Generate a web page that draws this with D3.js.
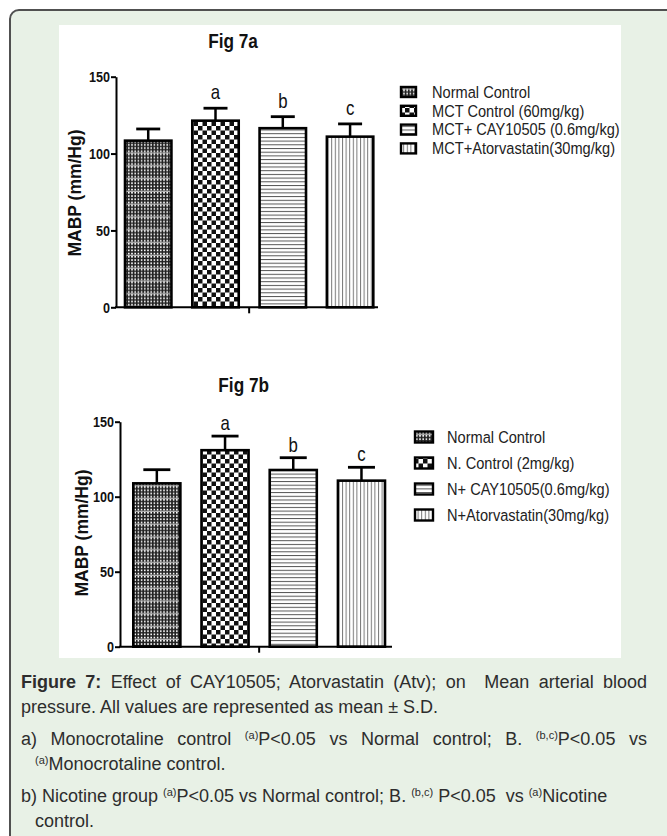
<!DOCTYPE html>
<html>
<head>
<meta charset="utf-8">
<script src="https://cdn.jsdelivr.net/npm/d3@7"></script>
<style>
  body { margin:0; background:#fff; width:667px; height:836px; overflow:hidden; position:relative; font-family:"Liberation Sans", Arial, sans-serif; }
  svg { position:absolute; left:0; top:0; }
  #cap { position:absolute; left:21px; top:670px; width:626px; font-size:18px; line-height:25px; color:#2d2d2d; }
  #cap .j { text-align:justify; text-align-last:justify; }
  #cap .ind { padding-left:14px; }
  #cap .gap { margin-top:7px; }
  #cap sup { font-size:11px; line-height:0; vertical-align:6px; }
</style>
</head>
<body>
<svg id="chart" width="667" height="836"></svg>
<div id="cap">
  <div class="j"><b>Figure 7:</b> Effect of CAY10505; Atorvastatin (Atv); on&nbsp; Mean arterial blood</div>
  <div>pressure. All values are represented as mean ± S.D.</div>
  <div class="j gap">a) Monocrotaline control <sup>(a)</sup>P&lt;0.05 vs Normal control; B. <sup>(b,c)</sup>P&lt;0.05 vs</div>
  <div class="ind"><sup>(a)</sup>Monocrotaline control.</div>
  <div class="gap">b) Nicotine group <sup>(a)</sup>P&lt;0.05 vs Normal control; B. <sup>(b,c)</sup> P&lt;0.05&nbsp; vs <sup>(a)</sup>Nicotine</div>
  <div class="ind">control.</div>
</div>
<script>
// ---------------- data ----------------
const groupsA = ["Normal Control", "MCT Control (60mg/kg)", "MCT+ CAY10505 (0.6mg/kg)", "MCT+Atorvastatin(30mg/kg)"];
const meansA  = [108.4, 121.4, 116.5, 111.0];
const sdA     = [7.6, 8.1, 7.5, 8.3];

const groupsB = ["Normal Control", "N. Control (2mg/kg)", "N+ CAY10505(0.6mg/kg)", "N+Atorvastatin(30mg/kg)"];
const meansB  = [108.9, 131.0, 117.8, 110.7];
const sdB     = [9.1, 9.4, 8.2, 8.9];

const sigLetters = ["", "a", "b", "c"];
const yTicks = [0, 50, 100, 150];
const yDomain = [0, 150];

// ---------------- frame ----------------
const svg = d3.select("#chart");
svg.append("rect").attr("x", 10).attr("y", 10).attr("width", 720).attr("height", 900)
  .attr("rx", 9).attr("fill", "#e8f1e6").attr("stroke", "#505050").attr("stroke-width", 2);
svg.append("rect").attr("x", 59).attr("y", 25).attr("width", 562).attr("height", 633).attr("fill", "#fff");

// ---------------- patterns ----------------
const defs = svg.append("defs");
function makePatterns(pre) {
  let p = defs.append("pattern").attr("id", pre + "0").attr("patternUnits", "userSpaceOnUse")
    .attr("width", 3.2).attr("height", 12.8);
  p.append("rect").attr("width", 3.2).attr("height", 12.8).attr("fill", "#222");
  for (let k = 0; k < 4; k++) p.append("rect").attr("x", 0).attr("y", k * 3.2).attr("width", 1.6).attr("height", 1.6).attr("fill", "#fff");
  p.append("rect").attr("x", 0).attr("y", 11.6).attr("width", 3.2).attr("height", 0.9).attr("fill", "#eee");
  p = defs.append("pattern").attr("id", pre + "1").attr("patternUnits", "userSpaceOnUse")
    .attr("width", 9).attr("height", 9);
  p.append("rect").attr("width", 9).attr("height", 9).attr("fill", "#fff");
  p.append("rect").attr("width", 4.5).attr("height", 4.5).attr("fill", "#111");
  p.append("rect").attr("x", 4.5).attr("y", 4.5).attr("width", 4.5).attr("height", 4.5).attr("fill", "#111");
  p = defs.append("pattern").attr("id", pre + "2").attr("patternUnits", "userSpaceOnUse")
    .attr("width", 10).attr("height", 3.7);
  p.append("rect").attr("width", 10).attr("height", 3.7).attr("fill", "#fff");
  p.append("rect").attr("width", 10).attr("height", 1).attr("fill", "#555");
  p = defs.append("pattern").attr("id", pre + "3").attr("patternUnits", "userSpaceOnUse")
    .attr("width", 3.6).attr("height", 10);
  p.append("rect").attr("width", 3.6).attr("height", 10).attr("fill", "#fff");
  p.append("rect").attr("width", 1).attr("height", 10).attr("fill", "#777");
}
makePatterns("pat");

const FONT = '"Liberation Sans", Arial, sans-serif';
const SQ = 0.84; // horizontal condensing of chart lettering

// ---------------- panel ----------------
function drawPanel(cfg, groups, means, sds) {
  const g = svg.append("g");
  const y = d3.scaleLinear().domain(yDomain).range([cfg.y0, cfg.y150]);
  const x = d3.scaleBand().domain(groups).range([cfg.barL, cfg.barR]).paddingInner(0.31).paddingOuter(0);
  const bw = x.bandwidth();

  // title
  g.append("text").attr("transform", `translate(${cfg.titleX},${cfg.titleY}) scale(${SQ},1)`)
    .attr("text-anchor", "middle")
    .attr("font-family", FONT).attr("font-weight", "bold").attr("font-size", 20.5).attr("fill", "#111")
    .text(cfg.title);

  // y label
  g.append("text").attr("transform", `translate(${cfg.ylabX},${cfg.ylabY}) rotate(-90)`)
    .attr("text-anchor", "middle").attr("dominant-baseline", "central")
    .attr("font-family", FONT).attr("font-weight", "bold").attr("font-size", 17.5).attr("fill", "#111")
    .text("MABP (mm/Hg)");

  // error bars
  const eg = g.append("g");
  groups.forEach((d, i) => {
    const cx = x(d) + bw / 2;
    eg.append("line").attr("x1", cx).attr("x2", cx).attr("y1", y(means[i])).attr("y2", y(means[i] + sds[i]))
      .attr("stroke", "#000").attr("stroke-width", 2.5);
    eg.append("line").attr("x1", cx - cfg.capW / 2).attr("x2", cx + cfg.capW / 2)
      .attr("y1", y(means[i] + sds[i])).attr("y2", y(means[i] + sds[i]))
      .attr("stroke", "#000").attr("stroke-width", 2.8);
  });

  // bars
  g.selectAll(".bar").data(groups).join("rect")
    .attr("x", d => x(d)).attr("y", (d, i) => y(means[i]))
    .attr("width", bw).attr("height", (d, i) => y(0) - y(means[i]))
    .attr("fill", (d, i) => `url(#pat${i})`).attr("stroke", "#000").attr("stroke-width", 2.6);

  // significance letters
  g.selectAll(".sig").data(groups).join("text")
    .attr("transform", (d, i) => `translate(${x(d) + bw / 2},${y(means[i] + sds[i]) - cfg.letterGap}) scale(${SQ},1)`)
    .attr("text-anchor", "middle").attr("font-family", FONT).attr("font-size", 20).attr("fill", "#111")
    .text((d, i) => sigLetters[i]);

  // y axis
  const ax = g.append("g").attr("transform", `translate(${cfg.yAxisX},0)`)
    .call(d3.axisLeft(y).tickValues(yTicks).tickSize(5).tickSizeOuter(0).tickPadding(2));
  ax.select(".domain").attr("stroke", "#000").attr("stroke-width", 2);
  ax.selectAll(".tick line").attr("stroke", "#000").attr("stroke-width", 2);
  ax.selectAll(".tick text").attr("font-family", FONT).attr("font-weight", "bold")
    .attr("font-size", 15).attr("fill", "#111")
    .attr("transform", `scale(${SQ},1)`);

  // x axis baseline with a single centre tick
  const xc = (x(groups[0]) + x(groups[groups.length - 1]) + bw) / 2;
  g.append("line").attr("x1", cfg.yAxisX - 1).attr("x2", cfg.axisEnd).attr("y1", y(0)).attr("y2", y(0))
    .attr("stroke", "#000").attr("stroke-width", 2);
  g.append("line").attr("x1", xc).attr("x2", xc).attr("y1", y(0)).attr("y2", y(0) + 6)
    .attr("stroke", "#000").attr("stroke-width", 2);

  // legend
  const lg = g.append("g");
  groups.forEach((d, i) => {
    const cy = cfg.legY0 + i * cfg.legDy;
    lg.append("rect").attr("x", cfg.legX).attr("y", cy - cfg.swH / 2).attr("width", cfg.swW).attr("height", cfg.swH)
      .attr("fill", `url(#pat${i})`).attr("stroke", "#000").attr("stroke-width", 2.4);
    lg.append("text").attr("transform", `translate(${cfg.legTextX},${cy}) scale(${cfg.legSq},1)`)
      .attr("dominant-baseline", "central")
      .attr("font-family", FONT).attr("font-size", cfg.legFont).attr("fill", "#222").text(d);
  });
}

drawPanel({
  title: "Fig 7a", titleX: 233, titleY: 48,
  ylabX: 75, ylabY: 193,
  yAxisX: 116, y0: 307.3, y150: 76.7,
  barL: 125, barR: 373.3, axisEnd: 378,
  capW: 24, letterGap: 9,
  legX: 401, legTextX: 432, legY0: 92, legDy: 18.8, swW: 15, swH: 10, legFont: 17, legSq: 0.86
}, groupsA, meansA, sdA);

drawPanel({
  title: "Fig 7b", titleX: 243.7, titleY: 391.7,
  ylabX: 81.7, ylabY: 533,
  yAxisX: 120, y0: 646.7, y150: 421.7,
  barL: 133.3, barR: 385, axisEnd: 392,
  capW: 27, letterGap: 6,
  legX: 415, legTextX: 447, legY0: 437, legDy: 26, swW: 18, swH: 11, legFont: 17, legSq: 0.86
}, groupsB, meansB, sdB);
</script>
</body>
</html>
